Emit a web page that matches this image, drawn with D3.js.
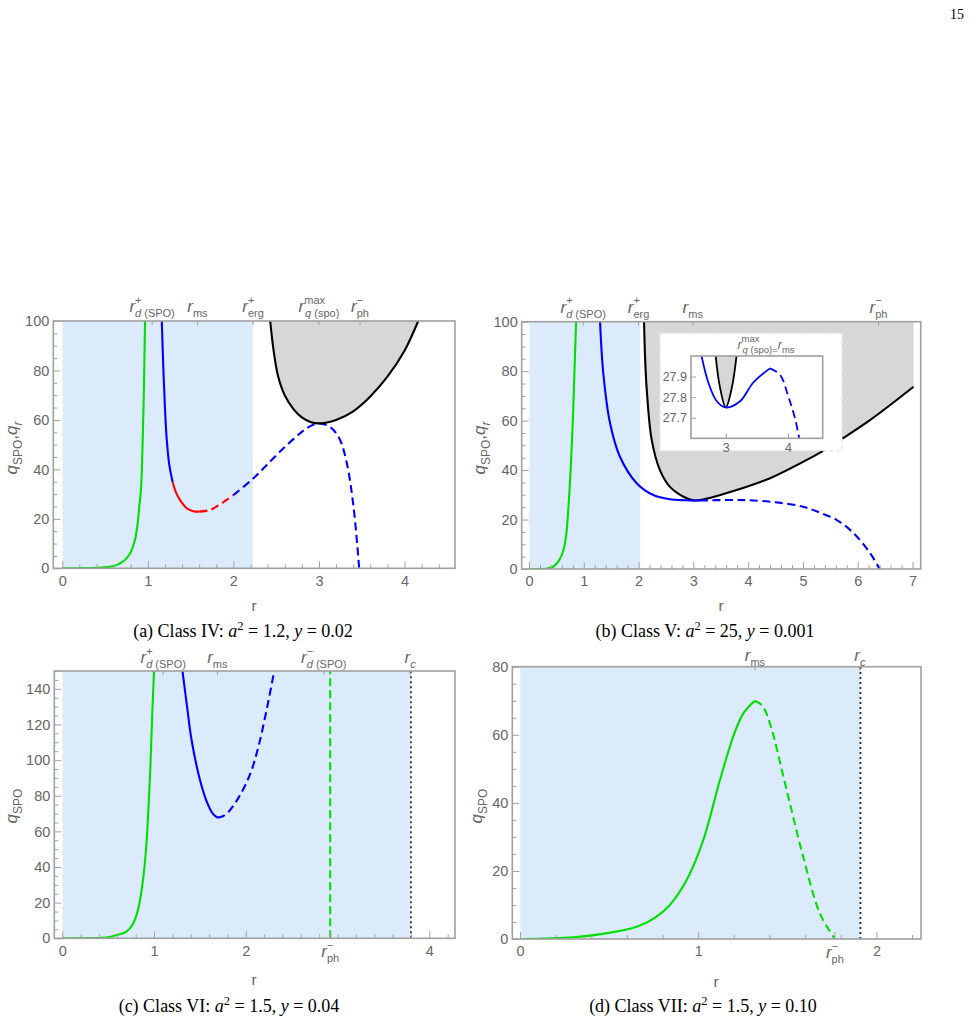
<!DOCTYPE html>
<html><head><meta charset="utf-8">
<script src="https://cdn.jsdelivr.net/npm/d3@7"></script>
<style>body{margin:0;background:#fff}svg{display:block}</style>
</head><body>
<svg id="chart" width="975" height="1023"></svg>
<script>
// ---------------- DATA ----------------
// Panel (a) Class IV
const aGreenR = [0, 0.2, 0.4, 0.5, 0.6, 0.7, 0.75, 0.8, 0.85, 0.88, 0.9, 0.92, 0.935, 0.95, 0.96, 0.967];
const aGreenQ = [0, 0.05, 0.2, 0.45, 0.9, 2.5, 4, 6.5, 11.5, 18, 25, 32, 46, 66, 85, 100];
const aBlueSolidR = [1.163, 1.18, 1.2, 1.221, 1.25, 1.29];
const aBlueSolidQ = [100, 82, 65, 52, 42, 34.8];
const aRedSolidR = [1.29, 1.33, 1.377, 1.455, 1.53, 1.6];
const aRedSolidQ = [34.8, 30.6, 27.6, 24.3, 23.1, 22.9];
const aRedDashR = [1.6, 1.727, 1.864, 2.0];
const aRedDashQ = [22.9, 23.6, 26.3, 29.6];
const aBlueDashR = [2.0, 2.234, 2.39, 2.585, 2.78, 2.9, 3.0, 3.1, 3.17, 3.247, 3.326, 3.404, 3.47];
const aBlueDashQ = [29.6, 36.4, 41.8, 48.5, 54.6, 57.5, 58.6, 57.8, 55.9, 51.9, 42.5, 24.9, 0];
const aBlackR = [2.43, 2.47, 2.52, 2.6, 2.7, 2.8, 2.9, 3.0, 3.2, 3.4, 3.6, 3.8, 4.0, 4.16];
const aBlackQ = [100, 88, 78, 70, 64.5, 61, 59.2, 58.6, 60, 63.5, 69.5, 77.5, 88, 100];
const aShadeR = [0, 2.227];
const aTopTickR = [1.05, 1.58, 2.23, 3.0, 3.48];
const aXTicks = [0, 1, 2, 3, 4];
const aYTicks = [0, 20, 40, 60, 80, 100];

// Panel (b) Class V
const bGreenR = [0, 0.3, 0.44, 0.55, 0.63, 0.68, 0.72, 0.76, 0.8, 0.83, 0.86];
const bGreenQ = [0, 0.1, 0.9, 3.5, 7.7, 14, 25, 40, 60, 80, 100];
const bBlueSolidR = [1.297, 1.357, 1.48, 1.66, 1.97, 2.27, 2.57, 2.85, 3.12];
const bBlueSolidQ = [100, 79, 58.9, 45.4, 34.6, 29.9, 28.2, 27.8, 27.7];
const bBlueDashR = [3.12, 3.7, 4.0, 4.5, 5.0, 5.31, 5.62, 5.93, 6.23, 6.4];
const bBlueDashQ = [27.7, 27.9, 27.8, 27.0, 25.2, 22.8, 19.8, 14.4, 6.3, 0];
const bBlackR = [2.1, 2.12, 2.15, 2.24, 2.39, 2.57, 2.82, 3.0, 3.2, 3.79, 4.4, 5.01, 5.36, 5.71, 6.23, 7.02];
const bBlackQ = [100, 85, 72.4, 52.2, 40, 33.3, 29.2, 27.75, 28.2, 31.9, 36.7, 43.4, 47.7, 52.6, 60.3, 73.7];
const bShadeR = [0, 2.03];
const bTopTickR = [0.99, 2.0, 2.99, 6.38];
const bXTicks = [0, 1, 2, 3, 4, 5, 6, 7];
const bYTicks = [0, 20, 40, 60, 80, 100];
// inset of (b)
const insBlueSolidR = [2.58, 2.61, 2.72, 2.855, 3.0, 3.23, 3.44, 3.71];
const insBlueSolidQ = [28.05, 28.0, 27.87, 27.78, 27.75, 27.78, 27.87, 27.94];
const insBlueDashR = [3.71, 3.87, 4.01, 4.12, 4.2];
const insBlueDashQ = [27.94, 27.91, 27.80, 27.69, 27.57];
const insBlackR = [2.83, 2.905, 3.0, 3.10, 3.18];
const insBlackQ = [28.02, 27.85, 27.75, 27.85, 28.02];
const insXTicks = [3, 4];
const insYTicks = [27.7, 27.8, 27.9];

// Panel (c) Class VI
const cGreenR = [0, 0.3, 0.5, 0.6, 0.7, 0.774, 0.83, 0.883, 0.92, 0.938, 0.96, 0.975, 0.99, 1.0];
const cGreenQ = [0, 0.1, 0.6, 1.9, 3.7, 8.4, 17, 34, 55, 72, 96, 118, 138, 150];
const cBlueSolidR = [1.31, 1.36, 1.41, 1.5, 1.58, 1.64, 1.69];
const cBlueSolidQ = [150, 130, 111, 89, 76, 70, 67.7];
const cBlueDashR = [1.69, 1.75, 1.8, 1.865, 1.95, 2.05, 2.14, 2.23, 2.31];
const cBlueDashQ = [67.7, 68.5, 70.3, 74.5, 81.5, 92.5, 108, 129, 150];
const cRdMinus = 2.92;
const cRc = 3.8;
const cShadeR = [0, 3.8];
const cTopTickR = [1.10, 1.69, 2.85, 3.79];
const cXTicks = [0, 1, 2, 4];
const cYTicks = [0, 20, 40, 60, 80, 100, 120, 140];

// Panel (d) Class VII
const dGreenSolidR = [0, 0.3, 0.5, 0.654, 0.75, 0.841, 0.935, 1.028, 1.122, 1.196, 1.253, 1.318];
const dGreenSolidQ = [0, 0.5, 1.8, 3.6, 6.0, 10.0, 17.3, 29, 46.7, 59.4, 66.3, 70];
const dGreenDashR = [1.318, 1.36, 1.402, 1.496, 1.589, 1.683, 1.767];
const dGreenDashQ = [70, 68.5, 63.4, 43.8, 24.2, 7.5, 0];
const dRc = 1.91;
const dShadeR = [0, 1.91];
const dTopTickR = [1.318, 1.907];
const dXTicks = [0, 1, 2];
const dYTicks = [0, 20, 40, 60, 80];

// ---------------- STYLE ----------------
const FRAME = '#a0a0a0', TXT = '#666', SHADE = '#dcebfb', GRAYFILL = '#d7d7d7';
const GREEN = '#00e000', BLUE = '#0000ff', RED = '#ff0000';
const SANS = 'Liberation Sans, Arial, sans-serif';
const SERIF = 'Liberation Serif, Times New Roman, serif';
const DASH = '8,4.5';

const svg = d3.select('#chart');
svg.append('text').attr('x', 964).attr('y', 19).attr('text-anchor', 'end')
  .attr('font-family', SERIF).attr('font-size', 14).text('15');

let clipN = 0;
function zip(R, Q) { return R.map((r, i) => [r, Q[i]]); }

function rich(parent, x, y, segs, o) {
  o = Object.assign({ size: 17, small: 11, anchor: 'middle', fill: TXT, family: SANS, rot: 0, sup: 0.5, sub: 0.32 }, o || {});
  const t = parent.append('text').attr('x', x).attr('y', y).attr('text-anchor', o.anchor)
    .attr('font-family', o.family).attr('fill', o.fill).attr('font-size', o.size);
  if (o.rot) t.attr('transform', `rotate(${o.rot},${x},${y})`);
  let cur = 0;
  segs.forEach(s => {
    const off = s.s === 'sup' ? -o.size * o.sup : s.s === 'sub' ? o.size * o.sub : 0;
    const ts = t.append('tspan').text(s.t).attr('dy', off - cur);
    cur = off;
    if (s.s) ts.attr('font-size', o.small);
    if (s.i) ts.attr('font-style', 'italic');
    if (s.dx) ts.attr('dx', s.dx);
  });
  return t;
}

function panel(p) {
  const [x0, y0, x1, y1] = p.frame;
  const x = d3.scaleLinear().domain(p.xd).range([x0, x1]);
  const y = d3.scaleLinear().domain(p.yd).range([y1, y0]);
  const g = svg.append('g');
  const id = 'clip' + (clipN++);
  g.append('clipPath').attr('id', id).append('rect')
    .attr('x', x0).attr('y', y0).attr('width', x1 - x0).attr('height', y1 - y0);
  const plot = g.append('g').attr('clip-path', `url(#${id})`);
  const line = d3.line().x(d => x(d[0])).y(d => y(d[1])).curve(d3.curveCatmullRom.alpha(0.5));
  return { x, y, g, plot, line, p };
}

function curve(P, R, Q, color, dashed, w) {
  P.plot.append('path').attr('d', P.line(zip(R, Q))).attr('fill', 'none')
    .attr('stroke', color).attr('stroke-width', w || 2.1)
    .attr('stroke-dasharray', dashed ? DASH : null);
}
function fillAbove(P, R, Q) {
  const top = P.y.domain()[1];
  const area = d3.area().x(d => P.x(d[0])).y0(P.y(top)).y1(d => P.y(d[1])).curve(d3.curveCatmullRom.alpha(0.5));
  P.plot.append('path').attr('d', area(zip(R, Q))).attr('fill', GRAYFILL);
}
function shade(P, R) {
  P.plot.append('rect').attr('x', P.x(R[0])).attr('y', P.y(P.y.domain()[1]))
    .attr('width', P.x(R[1]) - P.x(R[0])).attr('height', P.y(P.y.domain()[0]) - P.y(P.y.domain()[1]))
    .attr('fill', SHADE);
  P.plot.append('line').attr('x1', P.x(0)).attr('x2', P.x(0))
    .attr('y1', P.y(P.y.domain()[0])).attr('y2', P.y(P.y.domain()[1]))
    .attr('stroke', '#fff').attr('stroke-width', 1.5).attr('stroke-dasharray', '4,4').attr('opacity', 0.8);
}
function vline(P, r, color, dash, w) {
  P.plot.append('line').attr('x1', P.x(r)).attr('x2', P.x(r))
    .attr('y1', P.y(P.y.domain()[0])).attr('y2', P.y(P.y.domain()[1]))
    .attr('stroke', color).attr('stroke-width', w || 2).attr('stroke-dasharray', dash);
}
function frameAxes(P, o) {
  const { x, y, g } = P;
  const [x0, y0, x1, y1] = P.p.frame;
  const fs = o.fs || 14.5;
  g.append('g').attr('transform', `translate(0,${y1})`)
    .call(d3.axisBottom(x).tickValues(o.xt).tickSize(-(o.major || 7)).tickPadding(o.padx || 7).tickFormat(o.xfmt || d3.format('d')));
  const minorX = o.xminor ? d3.range(0, P.x.domain()[1], o.xminor).filter(v => !o.xt.some(t => Math.abs(t - v) < 1e-6)) : [];
  g.append('g').attr('transform', `translate(0,${y1})`)
    .call(d3.axisBottom(x).tickValues(minorX).tickSize(-(o.minor || 4)).tickFormat(''));
  g.append('g').attr('transform', `translate(${x0},0)`)
    .call(d3.axisLeft(y).tickValues(o.yt).tickSize(-(o.major || 7)).tickPadding(o.pady || 4).tickFormat(o.yfmt || d3.format('d')));
  const minorY = o.yminor ? d3.range(P.y.domain()[0], P.y.domain()[1] + 1e-9, o.yminor).filter(v => !o.yt.some(t => Math.abs(t - v) < 1e-6)) : [];
  g.append('g').attr('transform', `translate(${x0},0)`)
    .call(d3.axisLeft(y).tickValues(minorY).tickSize(-(o.minor || 4)).tickFormat(''));
  (o.top || []).forEach(r => {
    g.append('line').attr('x1', x(r)).attr('x2', x(r)).attr('y1', y0).attr('y2', y0 + 4)
      .attr('stroke', FRAME).attr('stroke-width', 1);
  });
  (o.extraBottom || []).forEach(r => {
    g.append('line').attr('x1', x(r)).attr('x2', x(r)).attr('y1', y1).attr('y2', y1 - (o.major || 7))
      .attr('stroke', FRAME).attr('stroke-width', 1);
  });
  g.selectAll('.domain').remove();
  g.selectAll('.tick line').attr('stroke', FRAME).attr('stroke-width', 1);
  g.selectAll('.tick text').attr('fill', TXT).attr('font-family', SANS).attr('font-size', fs);
  g.append('rect').attr('x', x0).attr('y', y0).attr('width', x1 - x0).attr('height', y1 - y0)
    .attr('fill', 'none').attr('stroke', FRAME).attr('stroke-width', 1.6);
}

function caption(cx, cy, letter, cls, a2, yv) {
  const t = svg.append('text').attr('x', cx).attr('y', cy).attr('text-anchor', 'middle')
    .attr('font-family', SERIF).attr('font-size', 18).attr('fill', '#000');
  t.append('tspan').text(`(${letter}) Class ${cls}: `);
  t.append('tspan').text('a').attr('font-style', 'italic');
  t.append('tspan').text('2').attr('font-size', 12.5).attr('dy', -7.5);
  t.append('tspan').text(` = ${a2}, `).attr('dy', 7.5);
  t.append('tspan').text('y').attr('font-style', 'italic');
  t.append('tspan').text(` = ${yv}`);
}
function xlabel(x, y) {
  svg.append('text').attr('x', x).attr('y', y).attr('text-anchor', 'middle')
    .attr('font-family', SANS).attr('font-size', 15.5).attr('fill', TXT).text('r');
}

const R = { t: 'r', i: true };
const rd = (sign) => [R, { t: sign, s: 'sup' }, { t: 'd', s: 'sub', i: true, dx: -6.5 }, { t: ' (SPO)', s: 'sub' }];
const rms = [R, { t: 'ms', s: 'sub' }];
const rerg = [R, { t: '+', s: 'sup' }, { t: 'erg', s: 'sub', dx: -6.5 }];
const rph = [R, { t: '−', s: 'sup' }, { t: 'ph', s: 'sub', dx: -6.5 }];
const rqmax = [R, { t: 'max', s: 'sup' }, { t: 'q', s: 'sub', i: true, dx: -20 }, { t: ' (spo)', s: 'sub' }];
const rc = [R, { t: 'c', s: 'sub', i: true }];
const qspo = [{ t: 'q', i: true }, { t: 'SPO', s: 'sub' }];
const qspoqr = [{ t: 'q', i: true }, { t: 'SPO', s: 'sub' }, { t: ',' }, { t: 'q', i: true }, { t: 'r', s: 'sub', i: true }];

// ---------------- PANEL A ----------------
{
  const P = panel({ frame: [53.3, 321, 455, 568.3], xd: [-0.105, 4.59], yd: [0, 100] });
  shade(P, aShadeR);
  fillAbove(P, aBlackR, aBlackQ);
  curve(P, aGreenR, aGreenQ, GREEN);
  curve(P, aBlueDashR, aBlueDashQ, BLUE, true);
  curve(P, aBlueSolidR, aBlueSolidQ, BLUE);
  curve(P, aRedSolidR, aRedSolidQ, RED);
  curve(P, aRedDashR, aRedDashQ, RED, true);
  curve(P, aBlackR, aBlackQ, '#000');
  frameAxes(P, { xt: aXTicks, yt: aYTicks, xminor: 0.2, yminor: 5, top: aTopTickR });
  const ty = 312;
  rich(svg, P.x(aTopTickR[0]), ty, rd('+'));
  rich(svg, P.x(aTopTickR[1]), ty, rms);
  rich(svg, P.x(aTopTickR[2]), ty, rerg);
  rich(svg, P.x(aTopTickR[3]), ty, rqmax);
  rich(svg, P.x(aTopTickR[4]), ty, rph);
  xlabel(254, 611);
  rich(svg, 17, 448, qspoqr, { rot: -90, size: 17, small: 12, sub: 0.28 });
  caption(243, 637, 'a', 'IV', '1.2', '0.02');
}

// ---------------- PANEL B ----------------
{
  const P = panel({ frame: [521.7, 321.7, 920.7, 569], xd: [-0.133, 7.15], yd: [0, 100] });
  shade(P, bShadeR);
  fillAbove(P, bBlackR, bBlackQ);
  curve(P, bGreenR, bGreenQ, GREEN);
  curve(P, bBlackR, bBlackQ, '#000');
  curve(P, bBlueSolidR, bBlueSolidQ, BLUE);
  curve(P, bBlueDashR, bBlueDashQ, BLUE, true);
  frameAxes(P, { xt: bXTicks, yt: bYTicks, xminor: 0.2, yminor: 5, top: bTopTickR });
  const ty = 312.5;
  rich(svg, P.x(bTopTickR[0]), ty, rd('+'));
  rich(svg, P.x(bTopTickR[1]), ty, rerg);
  rich(svg, P.x(bTopTickR[2]), ty, rms);
  rich(svg, P.x(bTopTickR[3]), ty, rph);
  xlabel(721, 611);
  rich(svg, 485, 448, qspoqr, { rot: -90, size: 17, small: 12, sub: 0.28 });
  caption(705, 637, 'b', 'V', '25', '0.001');

  // inset
  svg.append('rect').attr('x', 660).attr('y', 333.3).attr('width', 182).attr('height', 117.4)
    .attr('fill', '#fff').attr('stroke', '#e6e6e6').attr('stroke-dasharray', '4,3').attr('stroke-width', 1.5);
  const I = panel({ frame: [691, 356, 822.7, 438.3], xd: [2.44, 4.56], yd: [27.6, 28.0] });
  fillAbove(I, insBlackR, insBlackQ);
  curve(I, insBlackR, insBlackQ, '#000', false, 1.8);
  curve(I, insBlueSolidR, insBlueSolidQ, BLUE, false, 1.8);
  curve(I, insBlueDashR, insBlueDashQ, BLUE, true, 1.8);
  frameAxes(I, { xt: insXTicks, yt: insYTicks, yfmt: d3.format('.1f'), fs: 12.5, major: 5, padx: 5, pady: 4, top: [] });
  rich(svg, 766, 349, [R, { t: 'max', s: 'sup' }, { t: 'q', s: 'sub', i: true, dx: -17 }, { t: ' (spo)', s: 'sub' }, { t: '=', s: 'sub' }, R, { t: 'ms', s: 'sub' }],
    { size: 12.5, small: 9.5, sup: 0.58, sub: 0.34 });
}

// ---------------- PANEL C ----------------
{
  const P = panel({ frame: [54.3, 671, 455, 938.3], xd: [-0.087, 4.28], yd: [0, 150] });
  shade(P, cShadeR);
  curve(P, cGreenR, cGreenQ, GREEN);
  vline(P, cRdMinus, GREEN, '8,4', 2.1);
  vline(P, cRc, '#333', '2,3', 1.8);
  curve(P, cBlueSolidR, cBlueSolidQ, BLUE);
  curve(P, cBlueDashR, cBlueDashQ, BLUE, true);
  frameAxes(P, { xt: cXTicks, yt: cYTicks, xminor: 0.2, yminor: 5, top: cTopTickR, extraBottom: [cRdMinus] });
  const ty = 663;
  rich(svg, P.x(cTopTickR[0]), ty, rd('+'));
  rich(svg, P.x(cTopTickR[1]), ty, rms);
  rich(svg, P.x(cTopTickR[2]), ty, rd('−'));
  rich(svg, P.x(cTopTickR[3]), ty, rc);
  rich(svg, P.x(cRdMinus), 957, rph);
  xlabel(254, 985);
  rich(svg, 17, 806, qspo, { rot: -90, size: 17, small: 12, sub: 0.28 });
  caption(229, 1012, 'c', 'VI', '1.5', '0.04');
}

// ---------------- PANEL D ----------------
{
  const P = panel({ frame: [512.3, 666.7, 921, 939], xd: [-0.043, 2.25], yd: [0, 80] });
  shade(P, dShadeR);
  vline(P, dRc, '#222', '2,3', 1.8);
  curve(P, dGreenSolidR, dGreenSolidQ, GREEN);
  curve(P, dGreenDashR, dGreenDashQ, GREEN, true);
  frameAxes(P, { xt: dXTicks, yt: dYTicks, xminor: 0.2, yminor: 5, top: dTopTickR, extraBottom: [1.767] });
  const ty = 660.5;
  rich(svg, P.x(dTopTickR[0]), ty, rms);
  rich(svg, P.x(dTopTickR[1]), ty, rc);
  rich(svg, P.x(1.767), 958, rph);
  xlabel(716, 987);
  rich(svg, 482, 806, qspo, { rot: -90, size: 17, small: 12, sub: 0.28 });
  caption(703, 1012, 'd', 'VII', '1.5', '0.10');
}
</script>
</body></html>
